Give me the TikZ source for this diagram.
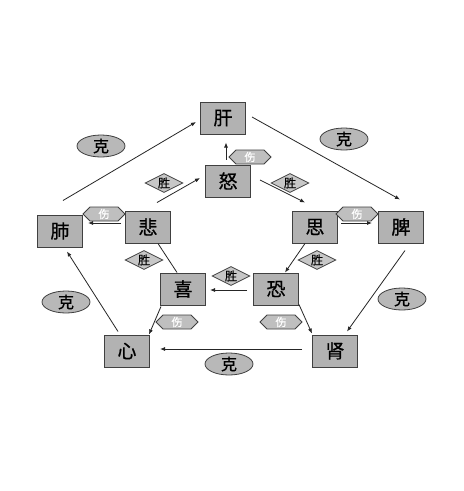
\documentclass[tikz,border=0pt]{standalone}
\usepackage{fontspec}
\newfontfamily\cjk{Noto Sans CJK SC}[FakeBold=0.8]
\usetikzlibrary{shapes.geometric,shapes.symbols,arrows.meta,calc}
\begin{document}
\begin{tikzpicture}[x=1pt,y=-1pt,
  organ/.style={draw=black!75,line width=1pt,fill=black!30,minimum width=45pt,minimum height=32pt,inner sep=0pt,font=\cjk\fontsize{19}{19}\selectfont},
  ke/.style={ellipse,draw=black!75,line width=0.8pt,fill=black!28,minimum width=48pt,minimum height=22pt,inner sep=0pt,font=\cjk\fontsize{16}{16}\selectfont},
  sheng/.style={diamond,draw=black!75,line width=0.8pt,fill=black!22,minimum width=38pt,minimum height=19pt,aspect=2,inner sep=0pt,font=\cjk\fontsize{12}{12}\selectfont},
  shang/.style={signal,signal to=west and east,draw=black!75,line width=0.8pt,fill=black!25,minimum width=42pt,minimum height=14pt,inner sep=0pt,text=white,font=\cjk\fontsize{11}{11}\selectfont},
  arr/.style={draw=black!85,line width=0.8pt,-{Latex[length=5pt,width=4pt]}},
  ln/.style={draw=black!85,line width=0.8pt}
]
\useasboundingbox[fill=white] (0,0) rectangle (464,491);
% organs / emotions
\node[organ] (gan) at (223,118) {肝};
\node[organ] (nu) at (228,181) {怒};
\node[organ] (fei) at (60,231) {肺};
\node[organ] (bei) at (148,227) {悲};
\node[organ] (si) at (315,227) {思};
\node[organ] (pi) at (401,227) {脾};
\node[organ] (xi) at (183,289) {喜};
\node[organ] (kong) at (276,289) {恐};
\node[organ] (xin) at (127,351) {心};
\node[organ] (shen) at (335,351) {肾};
% ke labels
\node[ke] (k1) at (101,146) {克};
\node[ke] (k2) at (344,139) {克};
\node[ke] (k3) at (66,302) {克};
\node[ke] (k4) at (402,299) {克};
\node[ke] (k5) at (229,364) {克};
% sheng labels
\node[sheng] (s1) at (164,183) {胜};
\node[sheng] (s2) at (290,183) {胜};
\node[sheng] (s3) at (144,260) {胜};
\node[sheng] (s4) at (317,260) {胜};
\node[sheng] (s5) at (231,276) {胜};
% shang labels
\node[shang] (h1) at (250,157) {伤};
\node[shang] (h2) at (104,214) {伤};
\node[shang] (h3) at (357,214) {伤};
\node[shang] (h4) at (177,322) {伤};
\node[shang] (h5) at (281,322) {伤};
% ke cycle
\draw[arr] ($(fei.north)+(3,-14)$) -- ($(gan.west)+(-4,4)$);
\draw[arr] ($(gan.east)+(6,-1)$) -- ($(pi.north)+(-1,-11)$);
\draw[arr] ($(pi.south)+(4,7)$) -- ($(shen.north)+(12,-3)$);
\draw[arr] ($(shen.west)+(-10,-2)$) -- ($(xin.east)+(10,-2)$);
\draw[arr] ($(xin.north)+(-9,-3)$) -- ($(fei.south)+(7,4)$);
% emotions
\draw[arr] ($(nu.north)+(-2,-5)$) -- ($(gan.south)+(3,8)$);
\draw[arr] ($(bei.north)+(9,-8)$) -- ($(nu.west)+(-5,-3)$);
\draw[arr] ($(nu.east)+(9,-1)$) -- ($(si.north)+(-10,-8)$);
\draw[arr] ($(si.east)+(3,-4)$) -- ($(pi.west)+(-6,-4)$);
\draw[arr] ($(bei.west)+(-4,-4)$) -- ($(fei.east)+(5,-8)$);
\draw[arr] ($(si.south)+(-10,0)$) -- ($(kong.north)+(9,0)$);
\draw[ln] ($(xi.north)+(-6,0)$) -- ($(bei.south)+(10,0)$);
\draw[arr] ($(kong.west)+(-6,1)$) -- ($(xi.east)+(4,1)$);
\draw[arr] ($(xi.south west)+(1,1)$) -- ($(xin.north east)+(-1,0)$);
\draw[arr] ($(kong.south east)+(0,-1)$) -- ($(shen.north west)+(0,-1)$);
\end{tikzpicture}
\end{document}
